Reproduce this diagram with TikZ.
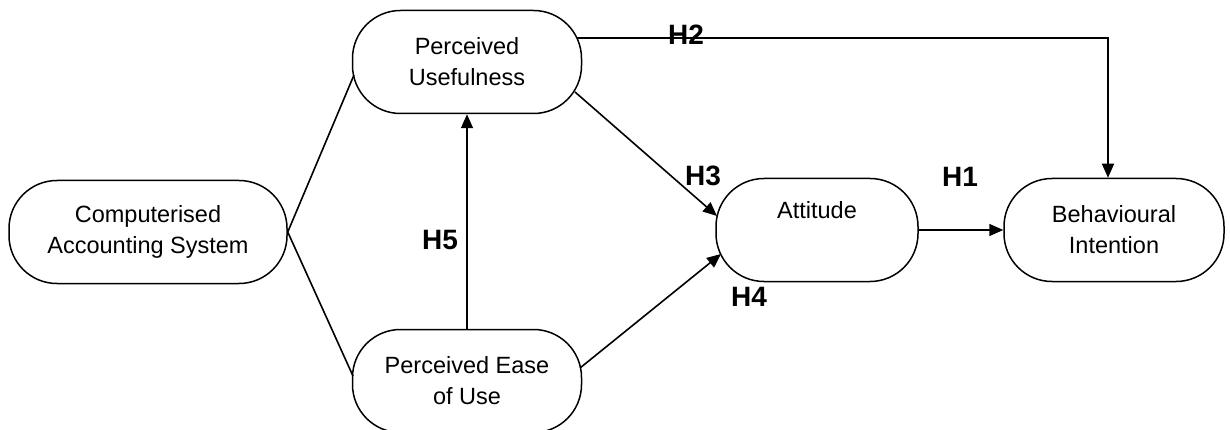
\documentclass[tikz,border=0pt]{standalone}
\usepackage{fontspec}
\setmainfont{Liberation Sans}
\usetikzlibrary{arrows.meta,calc}
\tikzset{
	construct/.style={draw, line width=1.5pt, rectangle, rounded corners=48pt,
		minimum height=103pt, inner sep=0pt, align=center, font=\fontsize{23.5}{31}\selectfont},
	link/.style={line width=1.6pt},
	hyp/.style={line width=1.6pt, -{Triangle[length=14pt,width=12pt]}},
	hlabel/.style={font=\bfseries\fontsize{28}{32}\selectfont, inner sep=0pt}
}

\begin{document}
\begin{tikzpicture}[x=1pt, y=-1pt]
		%%%%% START %%%%%
		\useasboundingbox (0, 0) rectangle (1230, 430);
		
		\node[construct, minimum width=278pt] (cas) at (148, 232) {Computerised\\Accounting System};
		\node[construct, minimum width=229pt] (pu) at (467, 62) {Perceived\\Usefulness};
		\node[construct, minimum width=229pt] (peou) at (467, 381) {Perceived Ease\\of Use};
		\node[construct, minimum width=202pt] (att) at (817, 230) {Attitude\\\strut};
		\node[construct, minimum width=220pt] (bi) at (1114, 230) {Behavioural\\Intention};
		
		\draw[link] (cas.east) -- ($(pu.center)+(-113, 13)$);
		\draw[link] (cas.east) -- ($(peou.center)+(-114, -5)$);
		
		\draw[hyp] (peou.north) -- (pu.south);
		\draw[hyp] ($(pu.center)+(108, 30)$) -- ($(att.center)+(-100, -14)$);
		\draw[hyp] ($(peou.center)+(113, -13)$) -- ($(att.center)+(-96, 24)$);
		\draw[hyp] (att.east) -- (bi.west);
		\draw[hyp] ($(pu.center)+(110, -24)$) -| ([xshift=-6pt]bi.north);
		
		\node[hlabel] (h1) at (960, 177) {H1};
		\node[hlabel] (h2) at (686, 35) {H2};
		\node[hlabel] (h3) at (703, 176) {H3};
		\node[hlabel] (h4) at (749, 297) {H4};
		\node[hlabel] (h5) at (440, 240) {H5};
		%%%%% END %%%%%
	\end{tikzpicture}
\end{document}
